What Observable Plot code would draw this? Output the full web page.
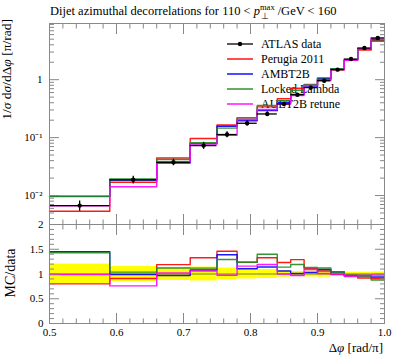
<!DOCTYPE html>
<html><head><meta charset="utf-8">
<script src="https://cdn.jsdelivr.net/npm/d3@7"></script>
<script src="https://cdn.jsdelivr.net/npm/@observablehq/plot@0.6"></script>
<style>
html,body{margin:0;padding:0;background:#fff;}
#wrap{position:relative;width:397px;height:358px;overflow:hidden;font-family:"Liberation Serif",serif;}
#wrap svg{position:absolute;left:0;}
</style></head><body><div id="wrap"></div>
<script>
// ---- data ----
const binEdges = [0.5, 0.59, 0.66, 0.71, 0.75, 0.78, 0.81, 0.84, 0.86, 0.88, 0.90, 0.92, 0.94, 0.96, 0.98, 1.0];
const atlasData = [0.0067, 0.0187, 0.0375, 0.0728, 0.113, 0.177, 0.256, 0.381, 0.551, 0.73, 0.96, 1.49, 2.27, 3.52, 5.24];
const atlasRelErr = [0.20, 0.15, 0.13, 0.14, 0.12, 0.10, 0.09, 0.065, 0.05, 0.06, 0.065, 0.035, 0.035, 0.035, 0.04];
const perugia2011 = [0.00536, 0.0170, 0.0446, 0.0968, 0.165, 0.219, 0.340, 0.469, 0.711, 0.810, 1.018, 1.475, 2.202, 3.238, 4.768];
const ambt2b = [0.00972, 0.0185, 0.0364, 0.0786, 0.157, 0.196, 0.292, 0.404, 0.557, 0.752, 1.046, 1.550, 2.202, 3.414, 4.926];
const lockedLambda = [0.00958, 0.0194, 0.0420, 0.0815, 0.146, 0.219, 0.358, 0.434, 0.656, 0.825, 1.075, 1.550, 2.202, 3.344, 4.611];
const auet2bRetune = [0.00663, 0.0142, 0.0383, 0.0772, 0.110, 0.205, 0.305, 0.381, 0.534, 0.796, 0.970, 1.490, 2.157, 3.414, 5.135];
const seriesNames = ["Perugia 2011", "AMBT2B", "Locked Lambda", "AUET2B retune"];
const seriesColors = ["#ff0000", "#0000ff", "#1f8a1f", "#ff00ff"];
const seriesValues = [perugia2011, ambt2b, lockedLambda, auet2bRetune];
const xTickValues = [0.5, 0.6, 0.7, 0.8, 0.9, 1.0];
const xTickLabels = ["0.5", "0.6", "0.7", "0.8", "0.9", "1.0"];
const yTopTickValues = [0.01, 0.1, 1];
const yTopTickLabels = ["10\u207B\u00B2", "10\u207B\u00B9", "1"];
const yRatioTickValues = [0, 0.5, 1, 1.5, 2];
const yRatioTickLabels = ["0", "0.5", "1", "1.5", "2"];

// ---- derived helpers ----
const xMinor = d3.range(26).map(i => +(0.5 + i * 0.02).toFixed(2)).filter((d, i) => i % 5 !== 0);
const yTopMinor = [];
for (const dec of [0.001, 0.01, 0.1, 1]) for (let m = 2; m <= 9; m++) {
  const v = m * dec; if (v > 10 ** -2.5 && v < 10 ** 0.97) yTopMinor.push(v);
}
const yRatioMinor = d3.range(21).map(i => +(i * 0.1).toFixed(1)).filter((d, i) => i % 5 !== 0);

const steps = vals => binEdges.map((e, i) => ({x: e, y: vals[Math.min(i, vals.length - 1)]}));
const dataRows = atlasData.map((v, i) => ({
  x1: binEdges[i], x2: binEdges[i + 1], xc: (binEdges[i] + binEdges[i + 1]) / 2,
  y: v, lo: v * (1 - atlasRelErr[i]), hi: v * (1 + atlasRelErr[i]),
  r1: 1 - atlasRelErr[i], r2: 1 + atlasRelErr[i]
}));

const fmt = (vals, labels) => d => { const i = vals.findIndex(v => Math.abs(v - d) < 1e-9); return i >= 0 ? labels[i] : ""; };
const tickAx = (axis, anchor, values, len) => axis(values, {anchor, tickSize: -len, tickFormat: () => "", label: null, stroke: "#888"});

const style = {background: "transparent", fontFamily: "Liberation Serif", fontSize: "11px", color: "black", overflow: "visible"};

const topPlot = Plot.plot({
  width: 397, height: 225, marginTop: 23, marginBottom: 1, marginLeft: 49, marginRight: 13,
  style,
  x: {domain: [0.5, 1]},
  y: {type: "log", domain: [10 ** -2.5, 10 ** 0.97]},
  marks: [
    ...seriesValues.map((vals, k) => Plot.line(steps(vals), {x: "x", y: "y", curve: "step-after", stroke: seriesColors[k], strokeWidth: 1.4, strokeOpacity: 0.9})),
    Plot.ruleY(dataRows, {y: "y", x1: "x1", x2: "x2", stroke: "black", strokeWidth: 1.3}),
    Plot.ruleX(dataRows, {x: "xc", y1: "lo", y2: "hi", stroke: "black", strokeWidth: 1.3}),
    Plot.dot(dataRows, {x: "xc", y: "y", r: 2.2, fill: "black"}),
    Plot.frame({stroke: "#888"}),
    tickAx(Plot.axisX, "bottom", xTickValues, 10), tickAx(Plot.axisX, "bottom", xMinor, 4.5),
    tickAx(Plot.axisX, "top", xTickValues, 10), tickAx(Plot.axisX, "top", xMinor, 4.5),
    tickAx(Plot.axisY, "left", yTopTickValues, 10), tickAx(Plot.axisY, "left", yTopMinor, 5),
    tickAx(Plot.axisY, "right", yTopTickValues, 10), tickAx(Plot.axisY, "right", yTopMinor, 5),
    Plot.axisY(yTopTickValues, {anchor: "left", tickSize: 0, tickPadding: 7, tickFormat: fmt(yTopTickValues, yTopTickLabels), label: null, fontSize: 11})
  ]
});
topPlot.style.top = "0px";

const ratioPlot = Plot.plot({
  width: 397, height: 135, marginTop: 1, marginBottom: 35, marginLeft: 49, marginRight: 13,
  style,
  x: {domain: [0.5, 1]},
  y: {domain: [0, 2]},
  marks: [
    Plot.rect(dataRows, {x1: "x1", x2: "x2", y1: "r1", y2: "r2", fill: "#ffff00"}),
    Plot.ruleY([1], {stroke: "#555", strokeWidth: 0.8}),
    ...seriesValues.map((vals, k) => Plot.line(steps(vals.map((v, i) => v / atlasData[i])), {x: "x", y: "y", curve: "step-after", stroke: seriesColors[k], strokeWidth: 1.4, strokeOpacity: 0.9})),
    Plot.frame({stroke: "#888"}),
    tickAx(Plot.axisX, "bottom", xTickValues, 10), tickAx(Plot.axisX, "bottom", xMinor, 4.5),
    tickAx(Plot.axisX, "top", xTickValues, 10), tickAx(Plot.axisX, "top", xMinor, 4.5),
    tickAx(Plot.axisY, "left", yRatioTickValues, 10), tickAx(Plot.axisY, "left", yRatioMinor, 5),
    tickAx(Plot.axisY, "right", yRatioTickValues, 10), tickAx(Plot.axisY, "right", yRatioMinor, 5),
    Plot.axisY(yRatioTickValues, {anchor: "left", tickSize: 0, tickPadding: 6, tickFormat: fmt(yRatioTickValues, yRatioTickLabels), label: null, fontSize: 11}),
    Plot.axisX(xTickValues, {anchor: "bottom", tickSize: 0, tickPadding: 5, tickFormat: fmt(xTickValues, xTickLabels), label: null, fontSize: 11})
  ]
});
ratioPlot.style.top = "223px";

// ---- overlay: title, legend, axis titles ----
const wrap = document.getElementById("wrap");
const ov = d3.create("svg").attr("width", 397).attr("height", 358).style("top", "0px")
  .attr("font-family", "Liberation Serif").attr("fill", "black");
const title = ov.append("text").attr("x", 50).attr("y", 15).attr("font-size", 12.5);
title.append("tspan").text("Dijet azimuthal decorrelations for 110 < ");
title.append("tspan").attr("font-style", "italic").text("p");
title.append("tspan").attr("font-size", 8.5).attr("dy", -5).text("max");
title.append("tspan").attr("font-size", 8.5).attr("dx", -14).attr("dy", 9).text("\u22A5");
title.append("tspan").attr("dx", 9).attr("dy", -4).text("/GeV < 160");

const yl = ov.append("text").attr("transform", "translate(11,19) rotate(-90)").attr("text-anchor", "end").attr("font-size", 13.5);
yl.append("tspan").text("1/");
yl.append("tspan").attr("font-style", "italic").text("\u03C3");
yl.append("tspan").text(" d");
yl.append("tspan").attr("font-style", "italic").text("\u03C3");
yl.append("tspan").text("/d\u0394");
yl.append("tspan").attr("font-style", "italic").text("\u03C6");
yl.append("tspan").text(" [\u03C0/rad]");

ov.append("text").attr("transform", "translate(15,273) rotate(-90)").attr("text-anchor", "middle").attr("font-size", 14).text("MC/data");

const xl = ov.append("text").attr("x", 383).attr("y", 352).attr("text-anchor", "end").attr("font-size", 13);
xl.append("tspan").text("\u0394");
xl.append("tspan").attr("font-style", "italic").text("\u03C6");
xl.append("tspan").text(" [rad/\u03C0]");

const legendNames = ["ATLAS data", ...seriesNames];
const legendColors = ["black", ...seriesColors];
legendNames.forEach((name, i) => {
  const cy = 44 + i * 15;
  ov.append("line").attr("x1", 227).attr("x2", 253).attr("y1", cy).attr("y2", cy)
    .attr("stroke", legendColors[i]).attr("stroke-width", i === 0 ? 1.3 : 1.4);
  if (i === 0) ov.append("circle").attr("cx", 240).attr("cy", cy).attr("r", 2.2).attr("fill", "black");
  ov.append("text").attr("x", 261).attr("y", cy + 4).attr("font-size", 12).text(name);
});

wrap.appendChild(ov.node());
wrap.appendChild(topPlot);
wrap.appendChild(ratioPlot);
</script>
</body></html>
